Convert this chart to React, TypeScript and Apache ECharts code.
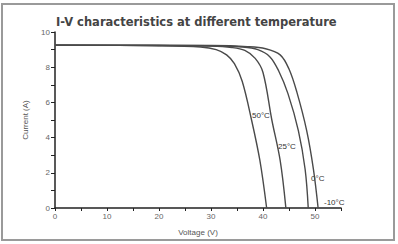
import React, { useEffect, useRef } from "react";
import * as echarts from "echarts";

const titleText = "I-V characteristics at different temperature";
const seriesNames = ["50°C", "25°C", "0°C", "-10°C"];

const v50 = [0, 20, 28, 31, 33, 34.5, 36, 37.8, 39.4, 40.7];
const i50 = [9.25, 9.22, 9.15, 9.0, 8.7, 8.2, 7.2, 5.0, 2.7, 0];

const v25 = [0, 20, 30, 34, 36.5, 38.5, 40, 41.7, 43.3, 44.4];
const i25 = [9.25, 9.23, 9.2, 9.12, 8.95, 8.5, 7.7, 5.0, 2.7, 0];

const v0 = [0, 30, 36, 39, 41.3, 43, 44.8, 46.8, 48.1, 48.7];
const i0 = [9.25, 9.22, 9.15, 9.0, 8.6, 7.8, 6.5, 4.4, 2.2, 0];

const vm10 = [0, 30, 37, 40.5, 43.3, 45, 46.5, 48.4, 49.7, 50.6];
const im10 = [9.25, 9.23, 9.17, 9.05, 8.7, 7.9, 6.6, 4.4, 2.2, 0];

const labelPos: [number, number][] = [
  [252, 115],
  [278, 146],
  [311, 178],
  [324, 202],
];

const FONT = "Liberation Sans";

export default function App() {
  const ref = useRef<HTMLDivElement>(null);
  useEffect(() => {
    if (!ref.current) return;
    const chart = echarts.init(ref.current, undefined, { renderer: "svg" });
    const sets = [
      [v50, i50],
      [v25, i25],
      [v0, i0],
      [vm10, im10],
    ];
    const series = sets.map(([xs, ys], k) => ({
      type: "line",
      name: seriesNames[k],
      data: xs.map((x, j) => [x, ys[j]]),
      smooth: 0.35,
      showSymbol: false,
      lineStyle: { color: "#4a4a4a", width: 1.4 },
    }));
    chart.setOption({
      animation: false,
      backgroundColor: "#ffffff",
      textStyle: { fontFamily: FONT },
      title: {
        text: titleText,
        left: 51,
        top: 11,
        textStyle: { fontSize: 11.5, fontWeight: "bold", color: "#444", fontFamily: "DejaVu Sans" },
      },
      grid: { left: 55, right: 57, top: 32, bottom: 36 },
      xAxis: {
        type: "value",
        min: 0,
        max: 55,
        interval: 5,
        name: "Voltage (V)",
        nameLocation: "middle",
        nameGap: 20,
        nameTextStyle: { fontSize: 8, color: "#555" },
        axisLine: { lineStyle: { color: "#222", width: 1.5 } },
        axisTick: { inside: false, length: 3, lineStyle: { color: "#222" } },
        axisLabel: {
          fontSize: 8,
          color: "#666",
          margin: 4,
          formatter: (v: number) => (v % 10 === 0 && v <= 50 ? String(v) : ""),
        },
        splitLine: { show: false },
      },
      yAxis: {
        type: "value",
        min: 0,
        max: 10,
        interval: 1,
        name: "Current (A)",
        nameLocation: "middle",
        nameRotate: 90,
        nameGap: 26,
        nameTextStyle: { fontSize: 8, color: "#555" },
        axisLine: { show: true, lineStyle: { color: "#222", width: 1.5 } },
        axisTick: { show: true, length: 4, lineStyle: { color: "#222" } },
        axisLabel: {
          fontSize: 8,
          color: "#666",
          margin: 5,
          formatter: (v: number) => (v % 2 === 0 ? String(v) : ""),
        },
        splitLine: { show: false },
      },
      series,
      graphic: [
        {
          type: "rect",
          shape: { x: 2, y: 4, width: 392, height: 236 },
          style: { fill: "none", stroke: "#9a9a9a", lineWidth: 2 },
          silent: true,
        },
        ...seriesNames.map((n, k) => ({
          type: "text",
          x: labelPos[k][0],
          y: labelPos[k][1],
          style: {
            text: n,
            fontSize: 8,
            fill: "#333",
            fontFamily: FONT,
            verticalAlign: "middle",
            backgroundColor: "#fff",
          },
        })),
      ],
    });
    return () => chart.dispose();
  }, []);
  return <div ref={ref} style={{ width: 398, height: 244, position: "absolute", left: 0, top: 0 }} />;
}
